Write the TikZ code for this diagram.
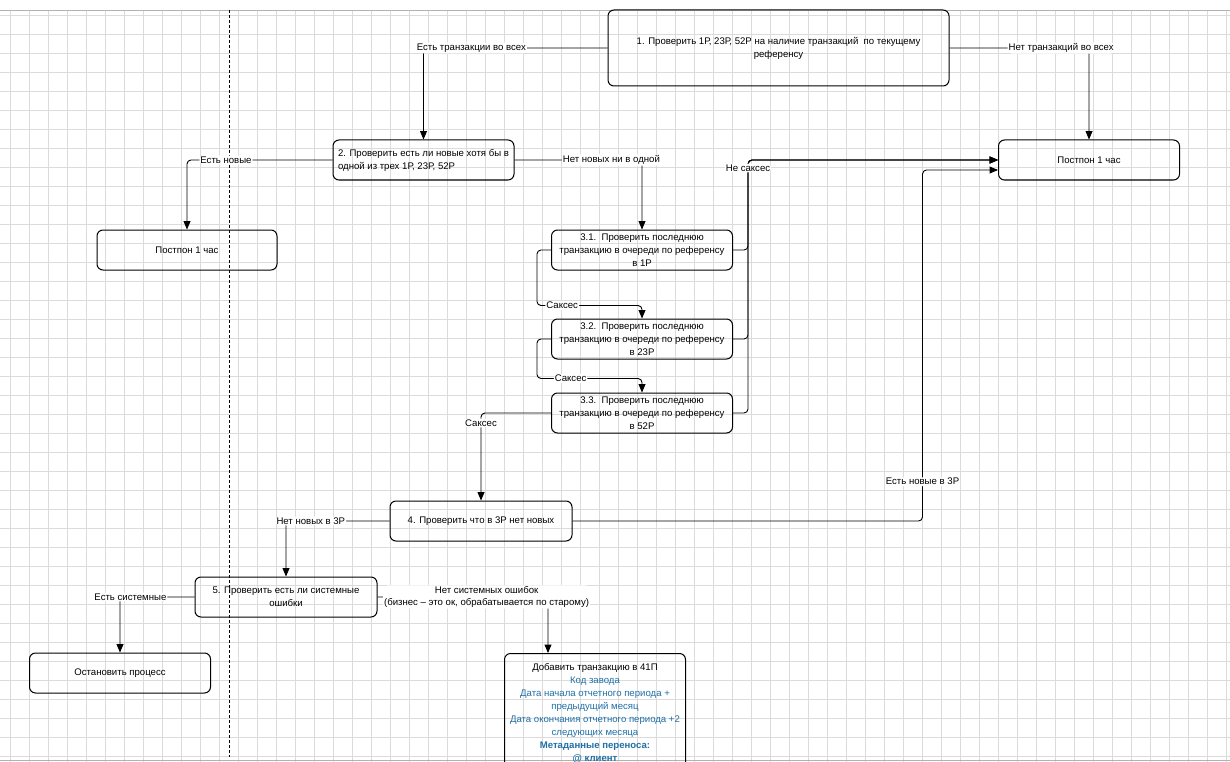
\documentclass[tikz,border=0pt]{standalone}
\usepackage{fontspec}
\setmainfont{Liberation Sans}
\usetikzlibrary{arrows,calc}
\definecolor{addblue}{RGB}{31,111,165}

\begin{document}
\begin{tikzpicture}[x=1pt,y=-1pt,>=triangle 45,
  box/.style={draw,line width=1pt,rounded corners=6pt,align=center,
    minimum width=181pt,minimum height=40pt,inner sep=2pt,font=\fontsize{9.6}{13}\selectfont},
  lbl/.style={fill=white,inner sep=1pt,font=\fontsize{9.6}{12}\selectfont},
  conn/.style={->,line width=0.9pt,rounded corners=4pt},
  gridline/.style={black!14,line width=0.6pt}]
\useasboundingbox (0,0) rectangle (1230,762);
\clip (0,0) rectangle (1230,762);
% grid
\foreach \gx in {10,29,...,1230} \draw[gridline] (\gx,10) -- (\gx,762);
\foreach \gy in {15,34,...,762} \draw[gridline] (0,\gy) -- (1230,\gy);
\draw[black!30,line width=0.8pt] (0,10) -- (1230,10) (0,760) -- (1230,760);
\draw[dash pattern=on 3pt off 2pt,line width=0.8pt] (229,10) -- (229,757);

% steps
\node[box,minimum width=341pt,minimum height=76pt] (b1) at (778.5,48)
  {1. Проверить 1Р, 23Р, 52Р на наличие транзакций\ \ по текущему\\референсу};
\node[box] (postR) at (1089,160) {Постпон 1 час};
\node[box,align=left] (b2) at (423.5,160) {2. Проверить есть ли новые хотя бы в\\одной из трех 1Р, 23Р, 52Р};
\node[box,minimum width=180pt] (postL) at (187,250) {Постпон 1 час};
\node[box] (b31) at (642,250) {3.1.\ \ Проверить последнюю\\транзакцию в очереди по референсу\\в 1Р};
\node[box] (b32) at (642,339) {3.2.\ \ Проверить последнюю\\транзакцию в очереди по референсу\\в 23Р};
\node[box] (b33) at (642,413) {3.3.\ \ Проверить последнюю\\транзакцию в очереди по референсу\\в 52Р};
\node[box,minimum width=182pt] (b4) at (481,521) {4. Проверить что в 3Р нет новых};
\node[box,minimum width=182pt] (b5) at (286,597) {5. Проверить есть ли системные\\ошибки};
\node[box] (stop) at (120,673) {Остановить процесс};
\node[box,anchor=north,inner ysep=10pt] (add) at (595,653) {Добавить транзакцию в 41П\\
  \color{addblue}Код завода\\
  \color{addblue}Дата начала отчетного периода +\\
  \color{addblue}предыдущий месяц\\
  \color{addblue}Дата окончания отчетного периода +2\\
  \color{addblue}следующих месяца\\
  \color{addblue}\bfseries Метаданные переноса:\\
  \color{addblue}\bfseries @ клиент};

% links
\draw[conn] (b1.west) -| node[lbl,pos=0.37] {Есть транзакции во всех} (b2.north);
\draw[conn] (b1.east) -| node[lbl,pos=0.40] {Нет транзакций во всех} (postR.north);
\draw[conn] (b2.west) -| node[lbl,pos=0.366] {Есть новые} (postL.north);
\draw[conn] (b2.east) -| node[lbl,pos=0.38] {Нет новых ни в одной} (b31.north);
\draw[conn] (b31.east) -- ++(15,0) |- (postR.west);
\draw[conn] (b32.east) -- ++(15,0) |- (postR.west);
\draw[conn] (b33.east) -- ++(15,0) |- node[lbl,pos=0.484] {Не саксес} (postR.west);
\draw[conn] (b31.west) -- ++(-14,0) |- node[lbl,pos=0.62] {Саксес} ($(b32.north)+(0,-13)$) -- (b32.north);
\draw[conn] (b32.west) -- ++(-14,0) |- node[lbl,pos=0.66] {Саксес} ($(b33.north)+(0,-14)$) -- (b33.north);
\draw[conn] (b33.west) -| node[lbl,pos=0.557] {Саксес} (b4.north);
\draw[conn] (b4.east) -- ++(350,0) |- node[lbl,pos=0.056] {Есть новые в 3Р} ($(postR.west)+(0,10)$);
\draw[conn] (b4.west) -| node[lbl,pos=0.38] {Нет новых в 3Р} (b5.north);
\draw[conn] (b5.west) -| node[lbl,pos=0.43] {Есть системные} (stop.north);
\draw[conn] (b5.east) -| node[lbl,align=center,pos=0.32] {Нет системных ошибок\\(бизнес – это ок, обрабатывается по старому)} ($(add.north west)+(44,0)$);
\end{tikzpicture}
\end{document}
